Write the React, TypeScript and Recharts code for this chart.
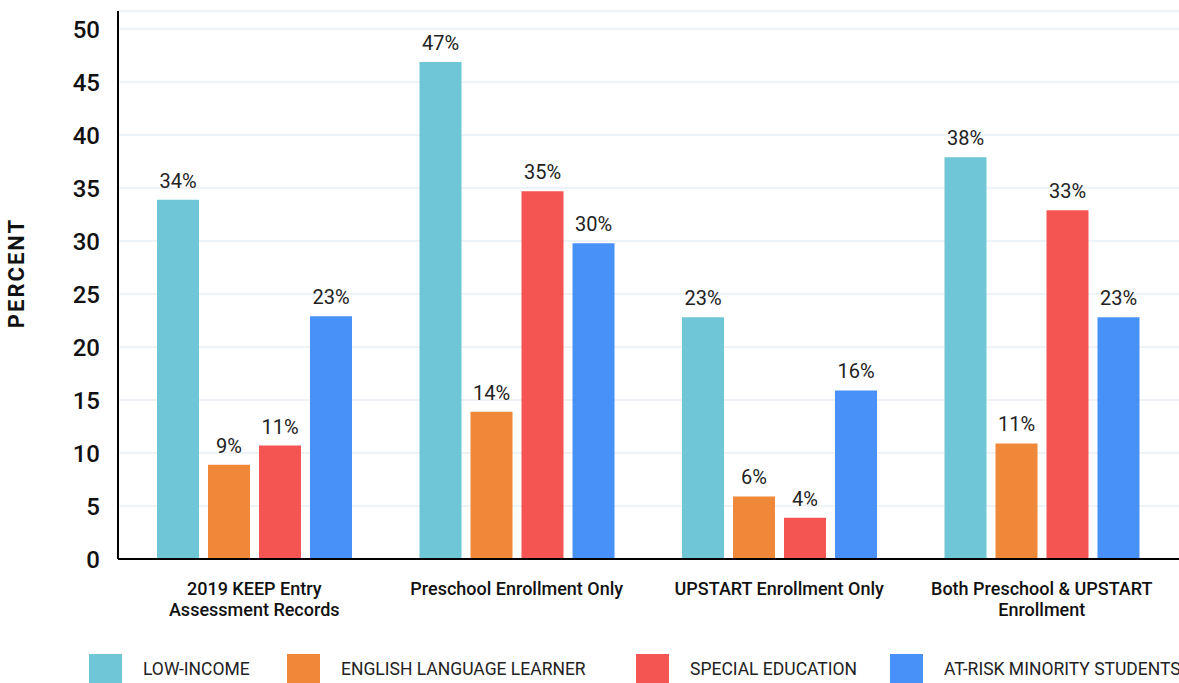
import { Bar, BarChart, CartesianGrid, LabelList, Legend, XAxis, YAxis } from "recharts";

const categories = [
  "2019 KEEP Entry Assessment Records",
  "Preschool Enrollment Only",
  "UPSTART Enrollment Only",
  "Both Preschool & UPSTART Enrollment",
];
const categoryLines = [
  ["2019 KEEP Entry", "Assessment Records"],
  ["Preschool Enrollment Only"],
  ["UPSTART Enrollment Only"],
  ["Both Preschool & UPSTART", "Enrollment"],
];

const lowIncome = [33.9, 46.9, 22.8, 37.9];
const englishLearner = [8.9, 13.9, 5.9, 10.9];
const specialEducation = [10.7, 34.7, 3.9, 32.9];
const atRiskMinority = [22.9, 29.8, 15.9, 22.8];

const yTicks = [0, 5, 10, 15, 20, 25, 30, 35, 40, 45, 50];

const series = [
  { key: "lowIncome", name: "LOW-INCOME", color: "#6EC6D6" },
  { key: "englishLearner", name: "ENGLISH LANGUAGE LEARNER", color: "#EF8838" },
  { key: "specialEducation", name: "SPECIAL EDUCATION", color: "#F45552" },
  { key: "atRiskMinority", name: "AT-RISK MINORITY STUDENTS", color: "#4891F8" },
];

const data = categories.map((name, i) => ({
  name,
  lowIncome: lowIncome[i],
  englishLearner: englishLearner[i],
  specialEducation: specialEducation[i],
  atRiskMinority: atRiskMinority[i],
}));

const FONT = "Roboto, 'Noto Sans', sans-serif";
const legendLeft = [89, 287, 636, 890];

function CategoryTick({ x, y, payload, index }: any) {
  const lines = categoryLines[index] ?? [payload.value];
  return (
    <g transform={`translate(${x},${y})`}>
      {lines.map((line: string, i: number) => (
        <text
          key={i}
          x={0}
          y={28 + i * 21}
          textAnchor="middle"
          fontFamily={FONT}
          fontSize={18}
          fontWeight={500}
          fill="#111"
        >
          {line}
        </text>
      ))}
    </g>
  );
}

function ChartLegend() {
  return (
    <div style={{ position: "relative", width: 1179, height: 29, fontFamily: FONT }}>
      {series.map((s, i) => (
        <div key={s.key} style={{ position: "absolute", left: legendLeft[i], top: 0, height: 29, display: "flex", alignItems: "center" }}>
          <div style={{ width: 33, height: 29, background: s.color }} />
          <span style={{ marginLeft: 21, fontSize: 17.5, color: "#222", whiteSpace: "nowrap" }}>{s.name}</span>
        </div>
      ))}
    </div>
  );
}

export default function App() {
  return (
    <div style={{ position: "absolute", left: 0, top: 0, width: 1179, height: 683, background: "#fff" }}>
      <BarChart
        width={1179}
        height={683}
        data={data}
        margin={{ top: 11, right: 0, left: 0, bottom: 35 }}
        barSize={42}
        barGap={9}
      >
        <CartesianGrid vertical={false} stroke="#e9eff4" strokeWidth={1.5} />
        <XAxis
          dataKey="name"
          height={60}
          padding={{ left: 5, right: 6 }}
          axisLine={{ stroke: "#000", strokeWidth: 2 }}
          tickLine={false}
          interval={0}
          tick={<CategoryTick />}
        />
        <YAxis
          width={118}
          domain={[0, 51.7]}
          ticks={yTicks}
          axisLine={{ stroke: "#000", strokeWidth: 2 }}
          tickLine={false}
          tickMargin={12}
          tick={{ fontFamily: FONT, fontSize: 24, fontWeight: 500, fill: "#111" }}
          label={() => (
            <text
              x={16}
              y={273}
              transform="rotate(-90, 16, 273)"
              textAnchor="middle"
              dominantBaseline="central"
              fontFamily={FONT}
              fontSize={22}
              fontWeight={700}
              letterSpacing={2}
              fill="#111"
            >
              PERCENT
            </text>
          )}
        />
        <Legend
          verticalAlign="bottom"
          content={<ChartLegend />}
          wrapperStyle={{ left: 0, top: 654, width: 1179, height: 29 }}
        />
        {series.map((s) => (
          <Bar key={s.key} dataKey={s.key} name={s.name} fill={s.color} isAnimationActive={false}>
            <LabelList
              dataKey={s.key}
              position="top"
              offset={12}
              formatter={(v: any) => `${Math.round(Number(v))}%`}
              style={{ fontFamily: FONT, fontSize: 20, fill: "#222" }}
            />
          </Bar>
        ))}
      </BarChart>
    </div>
  );
}
